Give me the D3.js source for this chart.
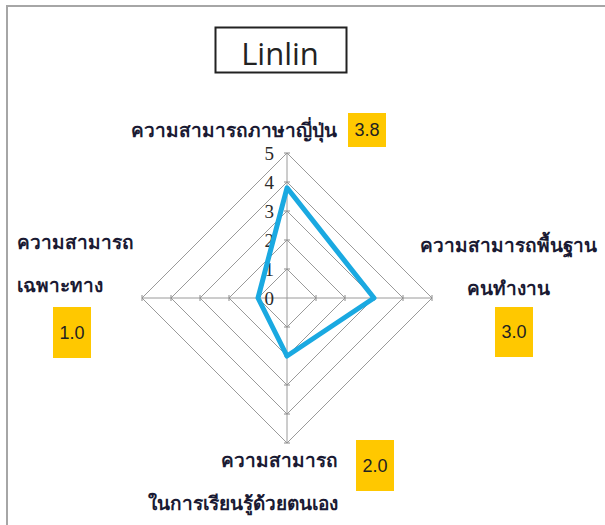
<!DOCTYPE html>
<html>
<head>
<meta charset="utf-8">
<script src="https://cdn.jsdelivr.net/npm/d3@7"></script>
<style>
  body { margin: 0; background: #fff; }
  svg { display: block; }
</style>
</head>
<body>
<svg id="chart"></svg>
<script>
const title = "Linlin";
const categories = [
  ["ความสามารถภาษาญี่ปุ่น"],
  ["ความสามารถพื้นฐาน", "คนทำงาน"],
  ["ความสามารถ", "ในการเรียนรู้ด้วยตนเอง"],
  ["ความสามารถ", "เฉพาะทาง"]
];
const values = [3.8, 3.0, 2.0, 1.0];
const tickValues = [0, 1, 2, 3, 4, 5];

const svgWidth = 605, svgHeight = 525;
const cx = 287, cy = 298;

const svg = d3.select("#chart")
  .attr("width", svgWidth)
  .attr("height", svgHeight);

// outer chart frame
svg.append("rect")
  .attr("x", 7).attr("y", 6)
  .attr("width", 700).attr("height", 600)
  .attr("fill", "none")
  .attr("stroke", "#a6a6a6")
  .attr("stroke-width", 2);

// title box
svg.append("rect")
  .attr("x", 215.5).attr("y", 27.5)
  .attr("width", 131).attr("height", 45)
  .attr("fill", "#fff")
  .attr("stroke", "#222")
  .attr("stroke-width", 2);
svg.append("text")
  .attr("x", 280).attr("y", 65)
  .attr("text-anchor", "middle")
  .attr("font-family", "Open Sans, Liberation Sans, sans-serif")
  .attr("font-size", 31)
  .attr("fill", "#222")
  .text(title);

const r = d3.scaleLinear().domain([0, 5]).range([0, 145]);
const angle = d3.scaleLinear().domain([0, categories.length]).range([-Math.PI / 2, 3 * Math.PI / 2]);

const g = svg.append("g").attr("transform", `translate(${cx},${cy})`);

// grid rings
const ring = d3.lineRadial()
  .angle((d, i) => angle(i) + Math.PI / 2)
  .radius(d => r(d))
  .curve(d3.curveLinearClosed);

g.selectAll(".ring")
  .data(tickValues.slice(1))
  .enter()
  .append("path")
  .attr("class", "ring")
  .attr("d", v => ring(categories.map(() => v)))
  .attr("fill", "none")
  .attr("stroke", "#9a9a9a")
  .attr("stroke-width", 1);

// spokes
g.selectAll(".spoke")
  .data(categories)
  .enter()
  .append("line")
  .attr("x1", 0).attr("y1", 0)
  .attr("x2", (d, i) => Math.cos(angle(i)) * r(5))
  .attr("y2", (d, i) => Math.sin(angle(i)) * r(5))
  .attr("stroke", "#9a9a9a")
  .attr("stroke-width", 1);

// small tick marks on the spokes
categories.forEach((c, i) => {
  const a = angle(i);
  g.selectAll(".tick" + i)
    .data(tickValues.slice(1))
    .enter()
    .append("line")
    .attr("x1", v => Math.cos(a) * r(v) - Math.sin(a) * 3)
    .attr("y1", v => Math.sin(a) * r(v) + Math.cos(a) * 3)
    .attr("x2", v => Math.cos(a) * r(v) + Math.sin(a) * 3)
    .attr("y2", v => Math.sin(a) * r(v) - Math.cos(a) * 3)
    .attr("stroke", "#8a8a8a")
    .attr("stroke-width", 1);
});

// tick labels
g.selectAll(".tlabel")
  .data(tickValues)
  .enter()
  .append("text")
  .attr("x", -13)
  .attr("y", v => -r(v))
  .attr("text-anchor", "end")
  .attr("dominant-baseline", "central")
  .attr("font-family", "Liberation Serif, DejaVu Serif, serif")
  .attr("font-size", 19)
  .attr("fill", "#2a2a2a")
  .text(d => d);

// data polygon
const line = d3.lineRadial()
  .angle((d, i) => angle(i) + Math.PI / 2)
  .radius(d => r(d))
  .curve(d3.curveLinearClosed);

g.append("path")
  .attr("d", line(values))
  .attr("fill", "none")
  .attr("stroke", "#1aa9e1")
  .attr("stroke-width", 5)
  .attr("stroke-linejoin", "round");

// category labels and value boxes
const labelPos = [
  { x: 234, y: 130, anchor: "middle", box: [348, 113, 38, 34] },
  { x: 508, y: 245, anchor: "middle", box: [495, 307, 38, 50] },
  { x: 338, y: 460, anchor: "end", box: [356, 440, 38, 51] },
  { x: 17, y: 242, anchor: "start", box: [53, 307, 38, 51] }
];

categories.forEach((lines, i) => {
  const p = labelPos[i];
  const t = svg.append("text")
    .attr("font-family", "Tahoma, DejaVu Sans, sans-serif")
    .attr("font-size", 19)
    .attr("font-weight", "bold")
    .attr("fill", "#1a1a33")
    .attr("text-anchor", p.anchor);
  lines.forEach((s, j) => {
    t.append("tspan")
      .attr("x", p.x)
      .attr("y", p.y + j * 43)
      .attr("dominant-baseline", "central")
      .text(s);
  });
  svg.append("rect")
    .attr("x", p.box[0]).attr("y", p.box[1])
    .attr("width", p.box[2]).attr("height", p.box[3])
    .attr("fill", "#ffc800");
  svg.append("text")
    .attr("x", p.box[0] + p.box[2] / 2)
    .attr("y", p.box[1] + p.box[3] / 2)
    .attr("text-anchor", "middle")
    .attr("dominant-baseline", "central")
    .attr("font-family", "Liberation Sans, Arial, sans-serif")
    .attr("font-size", 18)
    .attr("fill", "#222")
    .text(d3.format(".1f")(values[i]));
});
</script>
</body>
</html>
